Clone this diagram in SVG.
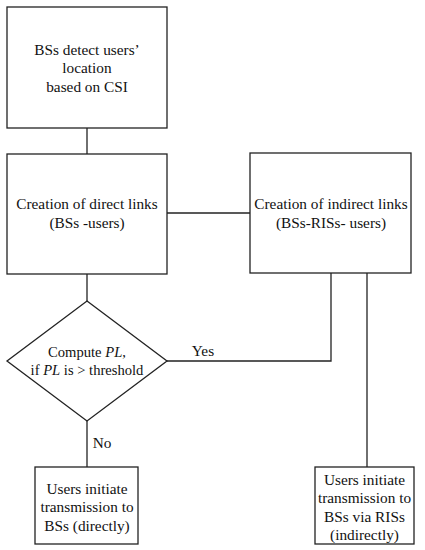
<svg xmlns="http://www.w3.org/2000/svg" width="425" height="550" viewBox="0 0 425 550" font-family="'Liberation Serif', 'DejaVu Serif', serif">
<style>
.box{fill:#fff;stroke:#222;stroke-width:1.3}
.ln{fill:none;stroke:#222;stroke-width:1.3}
text{font-family:'Liberation Serif', 'DejaVu Serif', serif;font-size:15.3px;fill:#111;text-anchor:middle}
.sm{font-size:14.6px}
</style>
<rect width="425" height="550" fill="#fff"/>
<g id="connectors">
<line class="ln" x1="87" y1="128" x2="87" y2="154"/>
<line class="ln" x1="167" y1="213" x2="250" y2="213"/>
<line class="ln" x1="87" y1="274" x2="87" y2="301"/>
<polyline class="ln" points="331,273 331,361 167,361"/>
<line class="ln" x1="367" y1="273" x2="367" y2="467"/>
<line class="ln" x1="87" y1="421" x2="87" y2="467"/>
<text x="203" y="356">Yes</text>
<text x="102" y="448">No</text>
</g>
<g id="detect">
<rect class="box" x="7" y="7" width="160" height="121"/>
<text x="87" y="55">BSs detect users’</text>
<text x="87" y="73">location</text>
<text x="87" y="92">based on CSI</text>
</g>
<g id="direct">
<rect class="box" x="7" y="154" width="160" height="120"/>
<text x="87" y="209">Creation of direct links</text>
<text x="87" y="228">(BSs -users)</text>
</g>
<g id="indirect">
<rect class="box" x="250" y="153" width="161" height="120"/>
<text x="331" y="209">Creation of indirect links</text>
<text x="331" y="228">(BSs-RISs- users)</text>
</g>
<g id="decision">
<polygon class="box" points="87,301 167,361 87,421 7,361"/>
<text class="sm" x="87" y="357">Compute <tspan font-style="italic">PL</tspan>,</text>
<text class="sm" x="87" y="375">if <tspan font-style="italic">PL</tspan> is &gt; threshold</text>
</g>
<g id="directTx">
<rect class="box" x="35" y="467" width="103" height="77"/>
<text x="87" y="494">Users initiate</text>
<text x="87" y="512">transmission to</text>
<text x="87" y="531">BSs (directly)</text>
</g>
<g id="indirectTx">
<rect class="box" x="315" y="467" width="99" height="77"/>
<text x="364.5" y="485">Users initiate</text>
<text x="364.5" y="503">transmission to</text>
<text x="364.5" y="522">BSs via RISs</text>
<text x="364.5" y="540">(indirectly)</text>
</g>
</svg>
